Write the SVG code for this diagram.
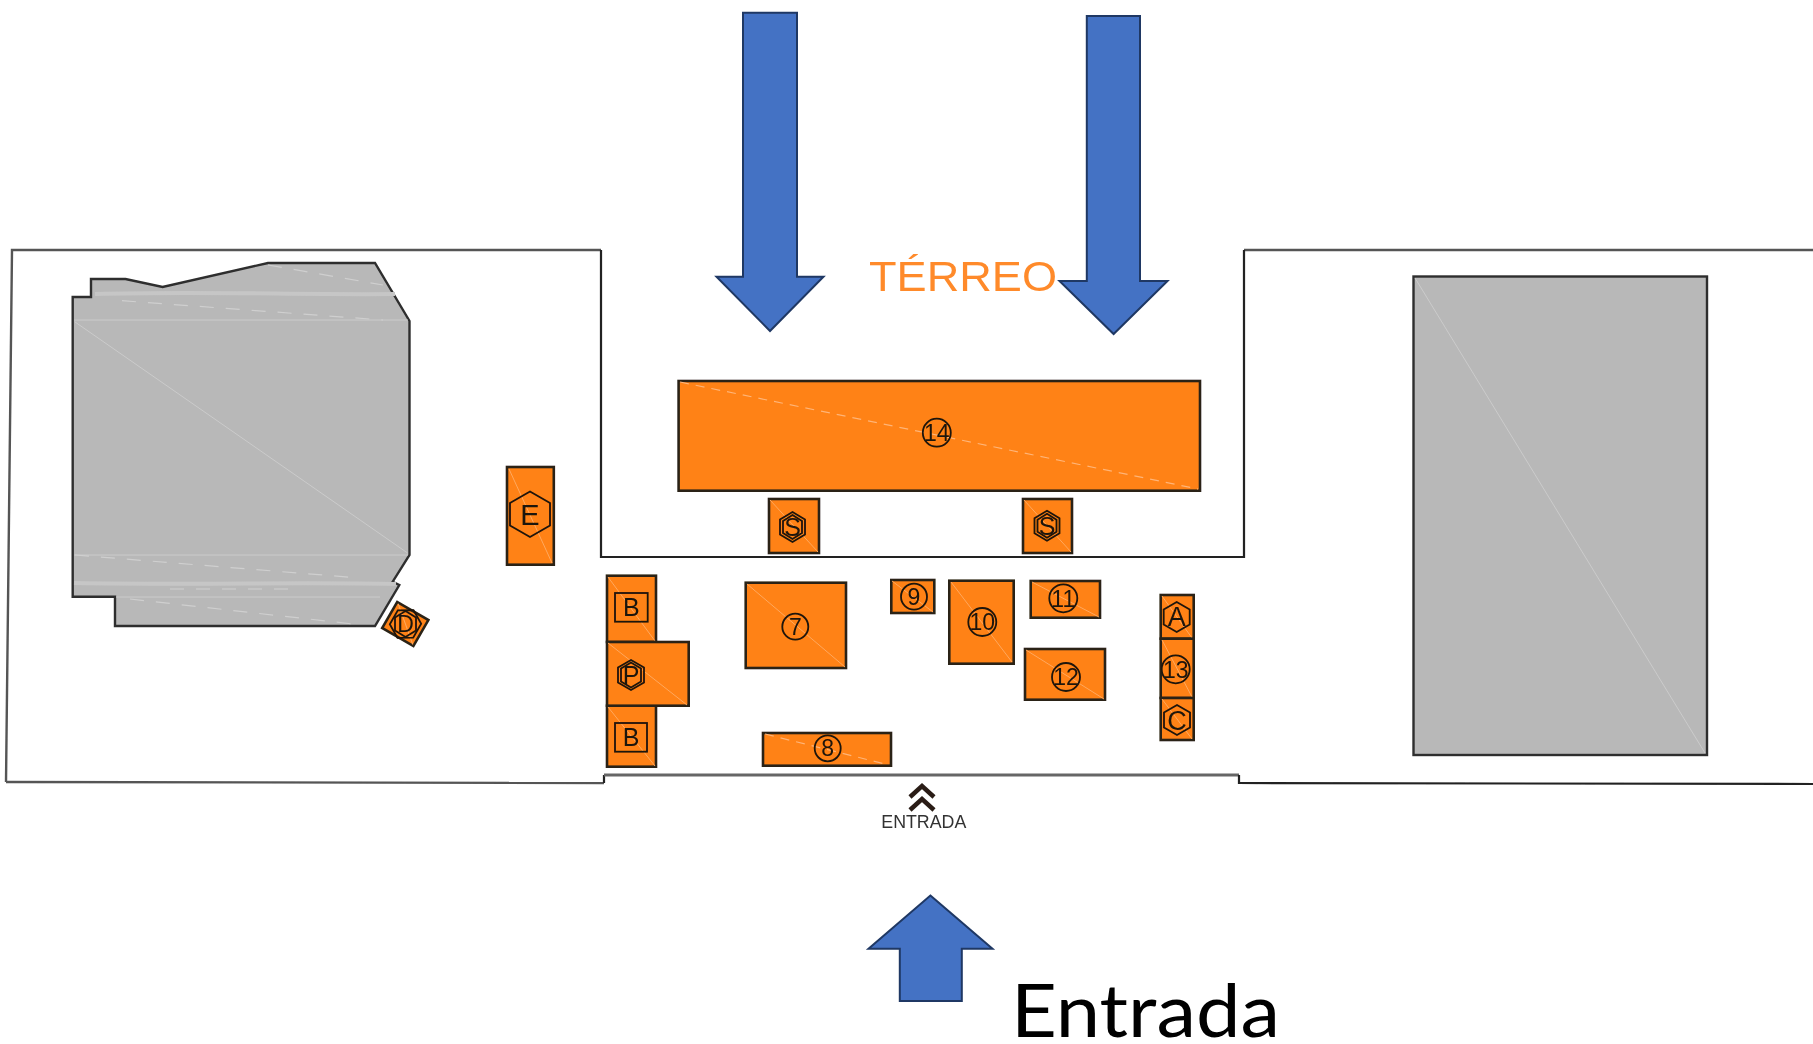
<svg xmlns="http://www.w3.org/2000/svg" width="1813" height="1044" viewBox="0 0 1813 1044">
<defs><filter id="soft" x="-2%" y="-2%" width="104%" height="104%"><feGaussianBlur stdDeviation="0.55"/></filter></defs>
<style>
.wall{fill:none;stroke:#555;stroke-width:2.400}
.wallb{fill:none;stroke:#666;stroke-width:3}
.walld{fill:none;stroke:#222;stroke-width:2.200}
.grey{fill:#b8b8b8;stroke:#2e2e2e;stroke-width:2.400}
.lt{fill:none;stroke:#cbcbcb;stroke-width:1}
.ltd{fill:none;stroke:#cfcfcf;stroke-width:1.200;stroke-dasharray:14 12}
.band{fill:none;stroke:#c6c6c6;stroke-width:4}
.o{fill:#ff8214;stroke:#2b2418;stroke-width:2.600}
.d{stroke:#ffa85f;stroke-width:1;fill:none}
.dd{stroke:#ffb478;stroke-width:1.200;fill:none;stroke-dasharray:9 7}
.m{fill:none;stroke:#1f1408;stroke-width:1.800}
.t{font-family:"Liberation Sans",Arial,sans-serif;fill:#1f1408;text-anchor:middle}
.a{fill:#4472c4;stroke:#1f3864;stroke-width:2}
</style>
<g id="plan" filter="url(#soft)">
<g id="walls">
<path class="wall" d="M6 782L12 250H601"/>
<path class="wall" d="M1813 250H1244"/>
<path class="walld" d="M601 250V557H1244V250"/>
<path class="wall" d="M6 782L604 783"/>
<path class="walld" d="M604 783V775"/>
<path class="wallb" d="M604 775H1239"/>
<path class="walld" d="M1239 775V783L1813 784"/>
</g>
<g id="building-left">
<path class="grey" d="M72.700 297H91V279H125.500L162.600 287L268 263H375L409.500 321V555L392.700 581.700L399.300 585L375 626H115V596.700H72.700Z"/>
<path class="lt" d="M74.600 321.700L407.600 553M74 320H408M74 555H408M116 597H380"/>
<path class="band" d="M95 294C200 291 300 295 395 294M74 583C200 585 300 582 396 584"/>
<path class="ltd" d="M122 300.700L383 320M268 265L383 285M75 555L360 578M130 599L353 624M170 589H300"/>
</g>
<g id="building-right">
<rect class="grey" x="1413.500" y="276.500" width="293.500" height="478.500"/>
<path class="lt" d="M1415 278L1705 753"/>
</g>
<text id="title" x="869" y="291" font-family="'Liberation Sans',Arial,sans-serif" font-size="43" fill="#ff8a2a" textLength="188" lengthAdjust="spacingAndGlyphs">TÉRREO</text>
<g id="node-14"><rect class="o" x="678.600" y="381" width="521.400" height="109.700"/><path class="dd" d="M680 382L1198 489"/><circle class="m" cx="936.800" cy="432.700" r="14"/><text class="t" x="936.800" y="441" font-size="23">14</text></g>
<g id="node-S1"><rect class="o" x="769" y="499" width="50" height="54"/><path class="d" d="M770 500L818 552"/><path class="m" d="M792.500 512L805 519.500V534.500L792.500 542L780 534.500V519.500Z"/><path class="m" d="M792.500 515L802 521V533L792.500 539L783 533V521Z"/><text class="t" x="792.500" y="536" font-size="25">S</text></g>
<g id="node-S2"><rect class="o" x="1023" y="499" width="49" height="54"/><path class="d" d="M1024 500L1071 552"/><path class="m" d="M1047 510.700L1059.500 518.200V533.200L1047 540.700L1034.500 533.200V518.200Z"/><path class="m" d="M1047 513.700L1056.500 519.700V531.700L1047 537.700L1037.500 531.700V519.700Z"/><text class="t" x="1047" y="534.700" font-size="25">S</text></g>
<g id="node-E"><rect class="o" x="507" y="467" width="46.800" height="97.700"/><path class="d" d="M509 469L552 563"/><path class="m" d="M530 491.500L550 503V525.500L530 537L510 525.500V503Z"/><text class="t" x="530" y="525" font-size="29">E</text></g>
<g id="node-D"><g transform="rotate(30 405.300 624)"><rect class="o" x="387.300" y="609" width="36" height="30"/><path class="d" d="M389 610L422 638"/></g><path class="m" d="M405.500 608L419 616V632L405.500 640L392 632V616Z" transform="rotate(30 405.500 624)"/><path class="m" d="M405.500 611L416 617.500V630.500L405.500 637L395 630.500V617.500Z"/><text class="t" x="405.500" y="632" font-size="23">D</text></g>
<g id="node-B1"><rect class="o" x="607" y="575.700" width="49" height="66.300"/><path class="d" d="M608 577L655 641"/><rect class="m" x="615" y="593" width="32.700" height="28.700"/><text class="t" x="631.300" y="616" font-size="25">B</text></g>
<g id="node-B2"><rect class="o" x="607" y="705.700" width="49" height="61"/><path class="d" d="M608 707L655 766"/><rect class="m" x="615" y="723" width="32" height="28.700"/><text class="t" x="631" y="746" font-size="25">B</text></g>
<g id="node-P"><rect class="o" x="607" y="642" width="81.700" height="63.700"/><path class="d" d="M608 643L687 705"/><path class="m" d="M631 660L644 667.500V682.500L631 690L618 682.500V667.500Z"/><path class="m" d="M631 662.500L641 668.500V681.500L631 687.500L621 681.500V668.500Z"/><text class="t" x="631" y="684" font-size="25">P</text></g>
<g id="node-7"><rect class="o" x="745.700" y="582.700" width="100.300" height="85.300"/><path class="d" d="M747 584L845 667"/><circle class="m" cx="795.300" cy="626.700" r="13"/><text class="t" x="795.300" y="634.700" font-size="23">7</text></g>
<g id="node-8"><rect class="o" x="763" y="733" width="128" height="32.700"/><path class="dd" d="M765 734L889 765"/><circle class="m" cx="827.700" cy="748.300" r="13"/><text class="t" x="827.700" y="756.300" font-size="23">8</text></g>
<g id="node-9"><rect class="o" x="891.300" y="580" width="43" height="33"/><path class="d" d="M892 581L933 612"/><circle class="m" cx="914" cy="596.700" r="13"/><text class="t" x="914" y="604.700" font-size="23">9</text></g>
<g id="node-10"><rect class="o" x="949.300" y="580.700" width="64.400" height="83"/><path class="d" d="M951 582L1012 662"/><circle class="m" cx="982.300" cy="622" r="14"/><text class="t" x="982.300" y="630.300" font-size="23">10</text></g>
<g id="node-11"><rect class="o" x="1030.700" y="581" width="69.300" height="36.700"/><path class="d" d="M1032 582L1099 617"/><circle class="m" cx="1063.300" cy="598.300" r="14"/><text class="t" x="1063.300" y="606.600" font-size="23">11</text></g>
<g id="node-12"><rect class="o" x="1025" y="649" width="80" height="50.700"/><path class="d" d="M1026 650L1104 699"/><circle class="m" cx="1066" cy="677" r="14"/><text class="t" x="1066" y="685.300" font-size="23">12</text></g>
<g id="node-A"><rect class="o" x="1160.700" y="595" width="33" height="43.700"/><path class="d" d="M1162 596L1192 638"/><path class="m" d="M1176.700 602L1189.700 609.500V624.500L1176.700 632L1163.700 624.500V609.500Z"/><text class="t" x="1176.700" y="626" font-size="27">A</text></g>
<g id="node-13"><rect class="o" x="1160.700" y="638.700" width="33" height="59.300"/><path class="d" d="M1162 640L1192 697"/><circle class="m" cx="1175.700" cy="669.300" r="14"/><text class="t" x="1175.700" y="677.600" font-size="23">13</text></g>
<g id="node-C"><rect class="o" x="1160.700" y="698" width="33" height="42"/><path class="d" d="M1162 699L1192 739"/><path class="m" d="M1177 705L1190 712.500V727.500L1177 735L1164 727.500V712.500Z"/><text class="t" x="1177" y="729.500" font-size="27">C</text></g>
<g id="entrance-mark">
<path d="M910 797L922 786L934 797M910 810L922 799L934 810" fill="none" stroke="#2a1f18" stroke-width="4.500"/>
<text x="881.300" y="828.300" font-family="'Liberation Sans',Arial,sans-serif" font-size="18" fill="#333" textLength="85" lengthAdjust="spacingAndGlyphs">ENTRADA</text>
</g>
</g>
<g id="connectors">
<path id="arrow-1" class="a" d="M743 12.700H797V276.700H823.500L770 331L716.500 276.700H743Z"/>
<path id="arrow-2" class="a" d="M1086.800 16H1140V281H1167.500L1113.600 334L1059.500 281H1086.800Z"/>
<path id="arrow-3" class="a" d="M930.400 895.500L992.500 948.700H961.800V1001H899.800V948.700H868.500Z"/>
</g>
<text id="entrada" x="1011" y="1036.700" font-family="Lato,'Liberation Sans',sans-serif" font-size="73" fill="#000" textLength="269" lengthAdjust="spacingAndGlyphs">Entrada</text>
</svg>
